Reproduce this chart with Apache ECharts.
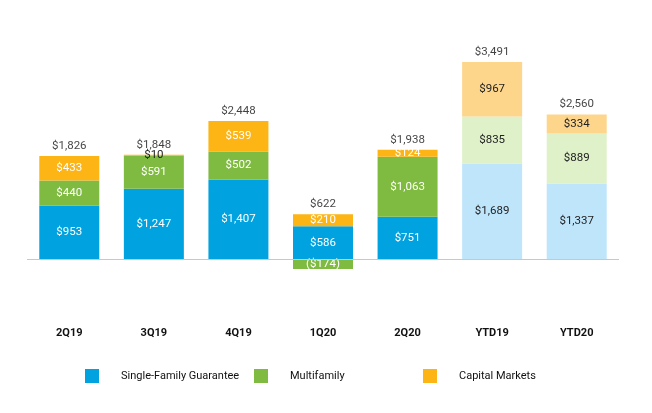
<!DOCTYPE html>
<html><head><meta charset="utf-8">
<script src="https://cdn.jsdelivr.net/npm/echarts@6/dist/echarts.min.js"></script>
<style>html,body{margin:0;padding:0;background:#fff}#c{width:652px;height:413px}</style>
</head><body><div id="c"></div>
<script>
const categories = ['2Q19','3Q19','4Q19','1Q20','2Q20','YTD19','YTD20'];
const singleFamily = [953, 1247, 1407, 586, 751, 1689, 1337];
const multifamily = [440, 591, 502, -174, 1063, 835, 889];
const capitalMarkets = [433, 10, 539, 210, 124, 967, 334];
const totals = [1826, 1848, 2448, 622, 1938, 3491, 2560];
const seriesNames = ['Single-Family Guarantee', 'Multifamily', 'Capital Markets'];

const FONT = 'Roboto, "Liberation Sans", sans-serif';
const FS = 11.5;
const dark = ['#00a3e0', '#80bb41', '#fdb415'];
const light = ['#bfe5fb', '#dff1c9', '#fdd68c'];
const isYtd = c => c.indexOf('YTD') === 0;

function fmt(v) {
  const s = '$' + Math.abs(v).toLocaleString('en-US');
  return v < 0 ? '(' + s + ')' : s;
}

function mk(vals, idx) {
  return vals.map((v, i) => ({
    value: v,
    itemStyle: { color: isYtd(categories[i]) ? light[idx] : dark[idx] },
    label: { color: (isYtd(categories[i]) || Math.abs(v) < 50) ? '#222' : '#fff' }
  }));
}

const allSeries = [singleFamily, multifamily, capitalMarkets];
const posTop = categories.map((c, i) => allSeries.reduce((a, s) => a + (s[i] > 0 ? s[i] : 0), 0));

const series = allSeries.map((vals, idx) => ({
  name: seriesNames[idx],
  type: 'bar',
  stack: 'a',
  barWidth: 60,
  itemStyle: { color: dark[idx] },
  label: { show: true, position: 'inside', fontFamily: FONT, fontSize: FS, textBorderWidth: 0, formatter: p => fmt(p.value) },
  data: mk(vals, idx),
  markLine: idx === 0 ? {
    silent: true, symbol: ['none', 'none'], label: { show: false },
    lineStyle: { color: '#c8c8c8', width: 1, type: 'solid' },
    data: [{ yAxis: 0 }]
  } : undefined
}));

series.push({
  name: 'Total', type: 'scatter', symbolSize: 0,
  data: posTop.map(v => ({ value: v })),
  label: { show: true, position: 'top', distance: 4, color: '#111', fontFamily: FONT, fontSize: FS,
    formatter: p => fmt(totals[p.dataIndex]) }
});

function legend(i, left) {
  return {
    data: [{ name: seriesNames[i], icon: 'rect' }],
    left: left, top: 369, padding: 0,
    itemWidth: 14, itemHeight: 14,
    textStyle: { fontFamily: FONT, fontSize: 11, color: '#111', padding: [0, 0, 0, 17] },
    selectedMode: false
  };
}

const chart = echarts.init(document.getElementById('c'), null, { renderer: 'canvas' });
chart.setOption({
  animation: false,
  grid: { left: 27, right: 33, top: 33.2, bottom: 97.2 },
  legend: [legend(0, 85), legend(1, 254), legend(2, 423)],
  xAxis: {
    type: 'category', data: categories,
    axisLine: { show: false }, axisTick: { show: false },
    axisLabel: { fontFamily: FONT, fontSize: 11, fontWeight: 'bold', color: '#111', margin: 12 }
  },
  yAxis: {
    type: 'value', min: -1000, max: 4000, show: false
  },
  series: series
});
</script></body></html>
